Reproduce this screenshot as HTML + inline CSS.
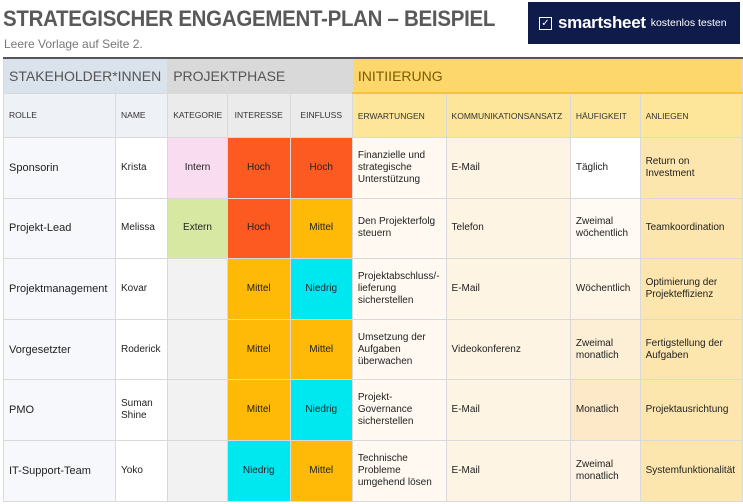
<!DOCTYPE html>
<html><head><meta charset="utf-8"><style>
body{margin:0;width:743px;height:504px;background:#fff;font-family:"Liberation Sans",sans-serif;position:relative;overflow:hidden;color:#222}
#title{position:absolute;left:3px;top:6px;font-size:22px;font-weight:bold;color:#595959;letter-spacing:-0.3px;transform:scaleX(0.93);transform-origin:left;white-space:nowrap}
#sub{position:absolute;left:4px;top:37px;font-size:12px;color:#777}
#logo{position:absolute;left:528px;top:2px;width:212px;height:42px;background:#0e1b4b;color:#fff;display:flex;align-items:center}
#logo .chk{width:11px;height:11px;border:1.5px solid #fff;margin-left:11px;margin-right:6px;font-size:10px;line-height:11px;text-align:center}
#logo b{font-size:17px;letter-spacing:-0.3px}
#logo span{font-size:10.5px;margin-left:5px}
table{position:absolute;left:3px;top:57px;border-collapse:collapse;table-layout:fixed;border-top:2px solid #555}
td{border:1px solid #d9d9d9;font-size:10px;padding:0 6px 0 5px;vertical-align:middle;line-height:12px;overflow:hidden}
tr.g td{height:33px;font-size:14px;color:#555;padding-left:5px}
tr.h td{height:43px;font-size:8.5px;color:#333;padding-right:0}
tr.d td{height:59.6px}
.c{text-align:center;padding:0 !important}
.hoch{background:#fd5a22}.mit{background:#ffba08}.nie{background:#00e8ef}
</style></head><body>
<div id="title">STRATEGISCHER ENGAGEMENT-PLAN – BEISPIEL</div>
<div id="sub">Leere Vorlage auf Seite 2.</div>
<div id="logo"><div class="chk">✓</div><b>smartsheet</b><span>kostenlos testen</span></div>
<table>
<colgroup><col style="width:110px"><col style="width:50px"><col style="width:60px"><col style="width:64px"><col style="width:64px"><col style="width:90px"><col style="width:125px"><col style="width:70px"><col style="width:103px"></colgroup>
<tr class="g">
<td colspan="2" style="background:#dae2ec">STAKEHOLDER*INNEN</td>
<td colspan="3" style="background:#d9d9d9">PROJEKTPHASE</td>
<td colspan="4" style="background:#fdd76b;color:#7a5c00;border-bottom:2px solid #f6c33a">INITIIERUNG</td></tr>
<tr class="h">
<td style="background:#eef1f6">ROLLE</td>
<td style="background:#eef1f6">NAME</td>
<td style="background:#ebebeb">KATEGORIE</td>
<td class="c" style="background:#ebebeb">INTERESSE</td>
<td class="c" style="background:#ebebeb">EINFLUSS</td>
<td style="background:#fde699">ERWARTUNGEN</td>
<td style="background:#fde699">KOMMUNIKATIONSANSATZ</td>
<td style="background:#fde699">HÄUFIGKEIT</td>
<td style="background:#fde699">ANLIEGEN</td></tr>
<tr class="d">
<td style="background:#f7f8fb;font-size:11px">Sponsorin</td><td>Krista</td><td class="c" style="background:#fadcf0">Intern</td><td class="c hoch">Hoch</td><td class="c hoch">Hoch</td>
<td style="background:#fff9f1">Finanzielle und strategische Unterstützung</td><td style="background:#fef4e3">E-Mail</td><td style="background:#fff">Täglich</td><td style="background:#fde6ad;padding-right:30px">Return on Investment</td></tr>
<tr class="d">
<td style="background:#f7f8fb;font-size:11px">Projekt-Lead</td><td>Melissa</td><td class="c" style="background:#d7e8a2">Extern</td><td class="c hoch">Hoch</td><td class="c mit">Mittel</td>
<td style="background:#fff9f1">Den Projekterfolg steuern</td><td style="background:#fef4e3">Telefon</td><td style="background:#fffaf3">Zweimal wöchentlich</td><td style="background:#fde6ad">Teamkoordination</td></tr>
<tr class="d">
<td style="background:#f7f8fb;font-size:11px">Projektmanagement</td><td>Kovar</td><td style="background:#f2f2f2"></td><td class="c mit">Mittel</td><td class="c nie">Niedrig</td>
<td style="background:#fff9f1">Projektabschluss/-lieferung sicherstellen</td><td style="background:#fef4e3">E-Mail</td><td style="background:#fef5e6">Wöchentlich</td><td style="background:#fde6ad">Optimierung der Projekteffizienz</td></tr>
<tr class="d">
<td style="background:#f7f8fb;font-size:11px">Vorgesetzter</td><td>Roderick</td><td style="background:#f2f2f2"></td><td class="c mit">Mittel</td><td class="c mit">Mittel</td>
<td style="background:#fff9f1">Umsetzung der Aufgaben überwachen</td><td style="background:#fef4e3">Videokonferenz</td><td style="background:#fdefd6">Zweimal monatlich</td><td style="background:#fde6ad">Fertigstellung der Aufgaben</td></tr>
<tr class="d">
<td style="background:#f7f8fb;font-size:11px">PMO</td><td>Suman Shine</td><td style="background:#f2f2f2"></td><td class="c mit">Mittel</td><td class="c nie">Niedrig</td>
<td style="background:#fff9f1">Projekt-Governance sicherstellen</td><td style="background:#fef4e3">E-Mail</td><td style="background:#fde8c8">Monatlich</td><td style="background:#fde6ad">Projektausrichtung</td></tr>
<tr class="d">
<td style="background:#f7f8fb;font-size:11px">IT-Support-Team</td><td>Yoko</td><td style="background:#f2f2f2"></td><td class="c nie">Niedrig</td><td class="c mit">Mittel</td>
<td style="background:#fff9f1">Technische Probleme umgehend lösen</td><td style="background:#fef4e3">E-Mail</td><td style="background:#fef3e3">Zweimal monatlich</td><td style="background:#fde6ad;padding-right:0">Systemfunktionalität</td></tr>
</table>
</body></html>
